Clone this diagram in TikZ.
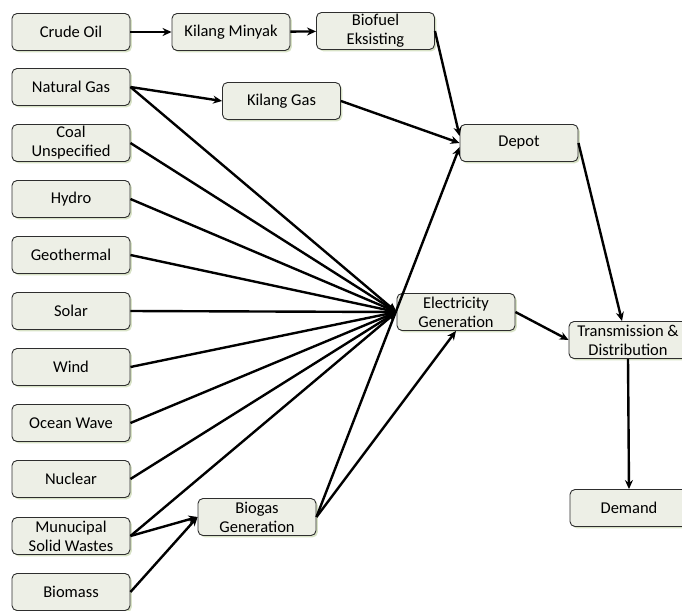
\documentclass[tikz,border=0pt]{standalone}
\usepackage{fontspec}
\setmainfont{Carlito}
\usetikzlibrary{arrows.meta,shadows}
\definecolor{boxfill}{HTML}{EDEFE6}
\definecolor{boxline}{HTML}{2E2E2E}
\definecolor{shadowc}{HTML}{D4DFC0}
\tikzset{
  box/.style={draw=boxline, line width=0.9pt, fill=boxfill, rounded corners=5pt,
    minimum width=118pt, minimum height=37pt, inner sep=1pt, align=center,
    font=\fontsize{16.5}{19}\selectfont,
    drop shadow={shadow xshift=1.8pt, shadow yshift=-1.8pt, fill=shadowc, opacity=0.9}},
  conn/.style={line width=2.4pt, black, -{Stealth[length=9pt,width=8pt]}}
}
\begin{document}
\begin{tikzpicture}[x=1pt,y=-1pt]
\useasboundingbox (0,0) rectangle (682,610);
\clip (0,0) rectangle (682,610);
% left column
\node[box] (crude) at (71,32) {Crude Oil};
\node[box] (natgas) at (71,87) {Natural Gas};
\node[box] (coal) at (71,143) {Coal\\Unspecified};
\node[box] (hydro) at (71,199) {Hydro};
\node[box] (geo) at (71,255) {Geothermal};
\node[box] (solar) at (71,311) {Solar};
\node[box] (wind) at (71,367) {Wind};
\node[box] (ocean) at (71,423) {Ocean Wave};
\node[box] (nuclear) at (71,479) {Nuclear};
\node[box] (msw) at (71,536) {Munucipal\\Solid Wastes};
\node[box] (biomass) at (71,592) {Biomass};
% middle
\node[box] (minyak) at (231,32) {Kilang Minyak};
\node[box] (biofuel) at (375.5,31) {Biofuel\\Eksisting};
\node[box] (kgas) at (281.5,101) {Kilang Gas};
\node[box] (depot) at (519,143) {Depot};
\node[box] (elec) at (456,312) {Electricity\\Generation};
\node[box] (biogas) at (257,517) {Biogas\\Generation};
\node[box] (td) at (628,340) {Transmission \&\\Distribution};
\node[box] (demand) at (629,508) {Demand};
% connectors
\draw[conn] (crude) -- (minyak);
\draw[conn] (minyak) -- (biofuel);
\draw[conn] (natgas.east) -- (kgas.west);
\draw[conn] (biofuel.east) -- ([yshift=7pt]depot.west);
\draw[conn] (kgas.east) -- (depot.west);
\foreach \s in {natgas,coal,hydro,geo,solar,wind,ocean,nuclear,msw}
  \draw[conn] (\s.east) -- (elec.west);
\draw[conn] (msw.east) -- (biogas.west);
\draw[conn] (biomass.east) -- (biogas.west);
\draw[conn] (biogas.east) -- (elec.south);
\draw[conn] (biogas.east) -- ([yshift=-4pt]depot.west);
\draw[conn] (depot.east) -- ([xshift=-6pt]td.north);
\draw[conn] (elec.east) -- (td.west);
\draw[conn] (td.south) -- (demand.north);
\end{tikzpicture}
\end{document}
